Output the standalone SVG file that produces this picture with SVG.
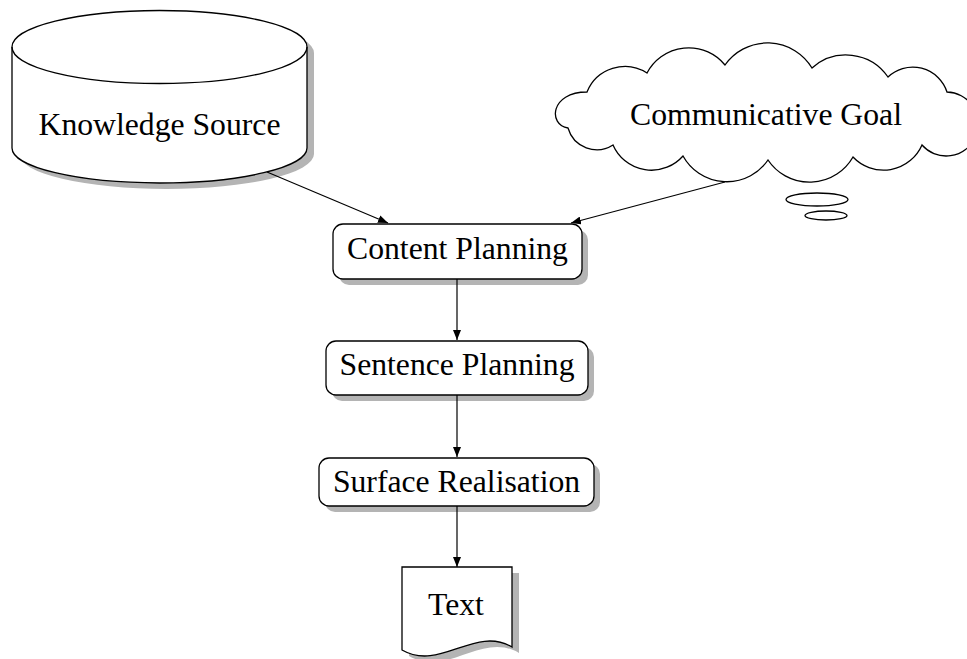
<svg xmlns="http://www.w3.org/2000/svg" width="967" height="659" viewBox="0 0 967 659">
<style>
.shape{fill:#fff;stroke:#000;stroke-width:1.3}
.shadow{fill:#b4b4b4;stroke:none}
.lbl{font-family:"Liberation Serif","Times New Roman",serif;font-size:31.7px;fill:#000;text-anchor:middle}
.edge{stroke:#000;stroke-width:1.2;fill:none;marker-end:url(#arr)}
</style>
<defs>
<marker id="arr" viewBox="0 0 10 8" refX="10" refY="4" markerWidth="10" markerHeight="8" markerUnits="userSpaceOnUse" orient="auto">
<path d="M0,0 L10,4 L0,8 Z" fill="#000"/>
</marker>
<filter id="blur" x="-5%" y="-5%" width="110%" height="110%"><feGaussianBlur stdDeviation="0.6"/></filter>
</defs>
<rect width="967" height="659" fill="#fff"/>

<g id="knowledge-source">
<path class="shadow" filter="url(#blur)" transform="translate(7,6)" d="M12,47 A147.5,36.5 0 0 1 307,47 V148 A147.5,35 0 0 1 12,148 Z"/>
<path class="shape" d="M12,47 A147.5,36.5 0 0 1 307,47 V148 A147.5,35 0 0 1 12,148 Z"/>
<path class="shape" style="fill:none" d="M12,47 A147.5,36.5 0 0 0 307,47"/>
<text class="lbl" x="159.5" y="135">Knowledge Source</text>
</g>

<g id="communicative-goal">
<path class="shape" d="M587,92 A41,41 0 0 1 647,73 A47,47 0 0 1 725,65 A52,52 0 0 1 812,68 A51,51 0 0 1 888,77 A36,36 0 0 1 947,92 A32,32 0 1 1 922,145 A42,42 0 0 1 853,157 A50,50 0 0 1 768,160 A50,50 0 0 1 683,156 A42,42 0 0 1 613,145 A30,30 0 0 1 568,128 C548,125 550,92 587,92 Z"/>
<text class="lbl" x="766" y="125">Communicative Goal</text>
<ellipse class="shape" cx="817" cy="199.5" rx="31" ry="6.5"/>
<ellipse class="shape" cx="826" cy="215.5" rx="21" ry="4.5"/>
</g>

<g id="content-planning">
<rect class="shadow" filter="url(#blur)" x="339" y="230" width="249" height="55" rx="10"/>
<rect class="shape" x="333" y="224" width="249" height="55" rx="10"/>
<text class="lbl" x="457.5" y="259">Content Planning</text>
</g>

<g id="sentence-planning">
<rect class="shadow" filter="url(#blur)" x="332" y="347" width="262" height="54" rx="10"/>
<rect class="shape" x="326" y="341" width="262" height="54" rx="10"/>
<text class="lbl" x="457" y="375">Sentence Planning</text>
</g>

<g id="surface-realisation">
<rect class="shadow" filter="url(#blur)" x="325" y="464" width="275" height="48" rx="10"/>
<rect class="shape" x="319" y="458" width="275" height="48" rx="10"/>
<text class="lbl" x="456.5" y="492">Surface Realisation</text>
</g>

<g id="text-doc">
<path class="shadow" filter="url(#blur)" transform="translate(7,6)" d="M402,567 H512 V647 C475,625 440,672 402,650 Z"/>
<path class="shape" d="M402,567 H512 V647 C475,625 440,672 402,650 Z"/>
<text class="lbl" x="456" y="615">Text</text>
</g>

<g id="connectors">
<line class="edge" x1="267" y1="172" x2="388" y2="223"/>
<line class="edge" x1="725" y1="182" x2="571" y2="223"/>
<line class="edge" x1="457" y1="279" x2="457" y2="340"/>
<line class="edge" x1="457" y1="395" x2="457" y2="457"/>
<line class="edge" x1="457" y1="506" x2="457" y2="567"/>
</g>
</svg>
